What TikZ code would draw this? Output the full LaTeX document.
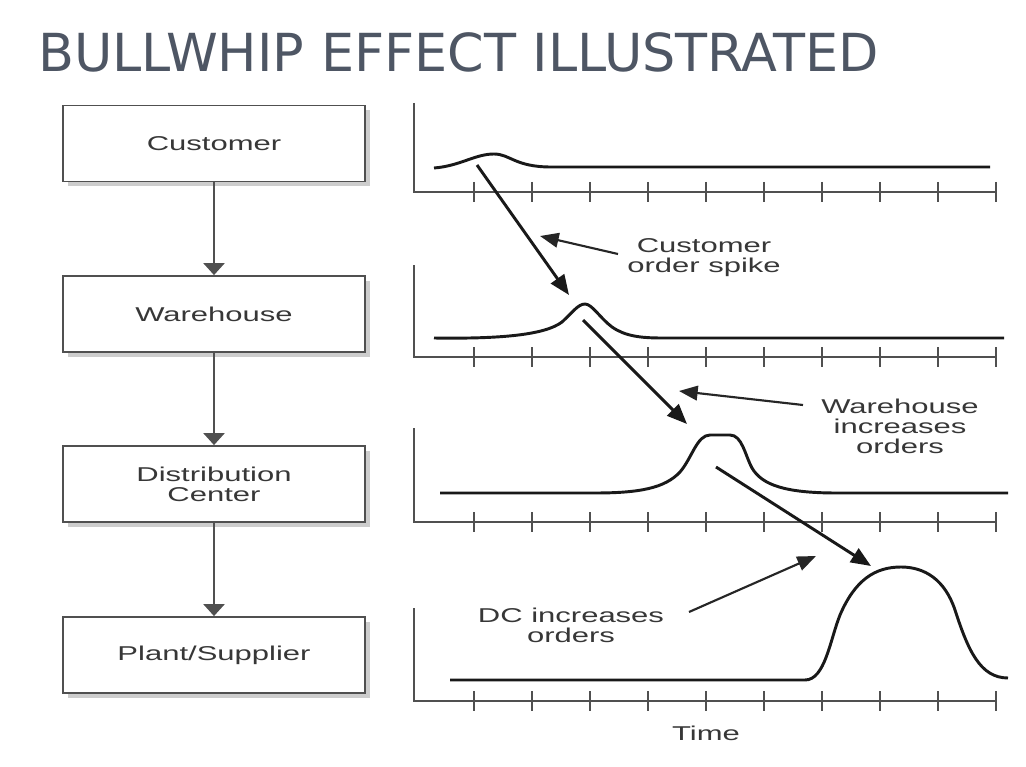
\documentclass[tikz,border=0pt]{standalone}
\usepackage{fontspec}
\setmainfont{Liberation Sans}
\newfontfamily\titlefont{DejaVu Sans}
\newfontfamily\figfont[FakeStretch=1.55]{Liberation Sans}
\usetikzlibrary{arrows.meta,shadows}
\definecolor{titlecol}{RGB}{78,86,100}
\definecolor{txtcol}{RGB}{55,55,55}
\definecolor{axiscol}{RGB}{80,80,80}
\definecolor{shadowcol}{RGB}{205,205,205}
\tikzset{
  stage/.style={draw=axiscol, line width=1.4pt, fill=white, minimum width=226.5pt, minimum height=57pt,
    inner sep=0pt, align=center, font=\figfont\fontsize{15}{15}\selectfont, text=txtcol,
    drop shadow={shadow xshift=3.5pt, shadow yshift=-3.5pt, fill=shadowcol, opacity=1}},
  flowarrow/.style={draw=axiscol, line width=1.1pt, -{Triangle[length=9pt,width=16pt]}},
  axisline/.style={draw=axiscol, line width=1.5pt},
  curve/.style={draw=black!90, line width=2.2pt, line join=round},
  bigarrow/.style={draw=black!90, line width=2.2pt, -{Triangle[length=15pt,width=12pt]}},
  pointer/.style={draw=black!85, line width=1.6pt, -{Triangle[length=14pt,width=11pt]}},
  lab/.style={font=\figfont\fontsize{15}{15}\selectfont, text=txtcol, align=center, inner sep=0pt}
}
\begin{document}
\begin{tikzpicture}[x=0.75pt,y=-0.75pt]
\fill[white] (0,0) rectangle (1026,767);
\useasboundingbox (0,0) rectangle (1026,767);

% title
\node[anchor=base west, font=\titlefont\fontsize{39.3}{41}\selectfont, text=titlecol, inner sep=0pt] (title) at (38,72) {BULLWHIP EFFECT ILLUSTRATED};

% supply chain boxes
\node[stage] (cust) at (214,143.5) {Customer};
\node[stage] (ware) at (214,314) {Warehouse};
\node[stage] (dc)   at (214,484) {Distribution\\Center};
\node[stage] (plant) at (214,655) {Plant/Supplier};
\draw[flowarrow] (cust.south) -- (ware.north);
\draw[flowarrow] (ware.south) -- (dc.north);
\draw[flowarrow] (dc.south) -- (plant.north);

% axes
\foreach \top/\ax in {103/192, 265/357, 428/522, 608/701}{
  \draw[axisline] (414,\top) -- (414,\ax) -- (997,\ax);
  \foreach \k in {0,...,9}{
    \draw[axisline] (473.5+58*\k,\ax-10) -- (473.5+58*\k,\ax+10);
  }
}

% curves
\draw[curve] (434,168) .. controls (460,166) and (475,154) .. (494,154)
  .. controls (510,154) and (515,167) .. (551,167) -- (990,167);
\draw[curve] (434,338) .. controls (500,339) and (545,335) .. (562,322)
  .. controls (572,313) and (578,304) .. (585,304)
  .. controls (592,304) and (600,318) .. (612,327)
  .. controls (625,336) and (640,338) .. (662,338) -- (1004,338);
\draw[curve] (440,493) -- (595,493) .. controls (640,493) and (665,488) .. (680,472)
  .. controls (692,458) and (697,435) .. (710,435) -- (730,435)
  .. controls (742,435) and (745,455) .. (752,468)
  .. controls (762,485) and (785,493) .. (837,493) -- (1008,493);
\draw[curve] (450,680) -- (805,680) .. controls (825,680) and (830,640) .. (840,615)
  .. controls (855,580) and (875,567) .. (901,567)
  .. controls (925,567) and (945,580) .. (955,610)
  .. controls (968,650) and (980,678) .. (1008,678);

% bullwhip arrows
\coordinate (a1s) at (477,165);
\coordinate (a1e) at (569,295);
\coordinate (a2s) at (583,320);
\coordinate (a2e) at (687,424);
\coordinate (a3s) at (716,467);
\coordinate (a3e) at (871,566);
\draw[bigarrow] (a1s) -- (a1e);
\draw[bigarrow] (a2s) -- (a2e);
\draw[bigarrow] (a3s) -- (a3e);

% labels
\node[lab] (l1) at (704,258) {Customer\\order spike};
\node[lab] (l2) at (900,426) {Warehouse\\increases\\orders};
\node[lab] (l3) at (571,625) {DC increases\\orders};
\node[lab] (time) at (706,733) {Time};

\coordinate (p1s) at (618,254);
\coordinate (p1e) at (540,236);
\coordinate (p2s) at (803,405);
\coordinate (p2e) at (679,391);
\coordinate (p3s) at (689,612);
\coordinate (p3e) at (816,556);
\draw[pointer] (p1s) -- (p1e);
\draw[pointer] (p2s) -- (p2e);
\draw[pointer] (p3s) -- (p3e);
\end{tikzpicture}
\end{document}
